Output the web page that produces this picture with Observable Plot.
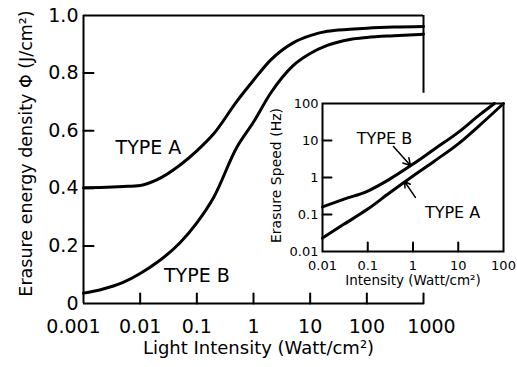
<!DOCTYPE html>
<html><head><meta charset="utf-8">
<script src="https://cdn.jsdelivr.net/npm/d3@7"></script>
<script src="https://cdn.jsdelivr.net/npm/@observablehq/plot@0.6"></script>
<style>
body{margin:0;background:#fff;}
#wrap{position:relative;width:517px;height:367px;overflow:hidden;}
#wrap svg{position:absolute;}
</style></head><body><div id="wrap"></div>
<script>
// ---- main chart data ----
const intensity = [0.001, 0.002, 0.005, 0.01, 0.02, 0.05, 0.1, 0.2, 0.5, 1, 2, 5, 10, 20, 50, 100, 300, 1000];
const typeA =     [0.402, 0.403, 0.406, 0.41, 0.43, 0.48, 0.53, 0.59, 0.70, 0.775, 0.845, 0.905, 0.93, 0.945, 0.952, 0.956, 0.96, 0.962];
const typeB =     [0.036, 0.048, 0.073, 0.104, 0.143, 0.21, 0.28, 0.37, 0.54, 0.63, 0.73, 0.826, 0.868, 0.896, 0.917, 0.924, 0.93, 0.935];
const mainXTicks = [0.001, 0.01, 0.1, 1, 10, 100, 1000];
const mainYTicks = [0, 0.2, 0.4, 0.6, 0.8, 1.0];
const mainLabels = [{x: 0.014, y: 0.54, t: "TYPE A"}, {x: 0.1, y: 0.095, t: "TYPE B"}];

// ---- inset data ----
const insetAX = [0.01, 0.03, 0.1, 0.3, 1, 3, 10, 30, 100];
const insetAY = [0.023, 0.055, 0.14, 0.38, 1.1, 2.8, 8.1, 26, 100];
const insetBX = [0.01, 0.03, 0.1, 0.3, 1, 3, 10, 30, 63];
const insetBY = [0.16, 0.26, 0.43, 0.89, 2.3, 5.9, 16.6, 50, 100];
const insetTicks = [0.01, 0.1, 1, 10, 100];
const insetLabels = [{x: 0.234, y: 11.3, t: "TYPE B"}, {x: 7.5, y: 0.113, t: "TYPE A"}];
const insetArrows = [{x1: 0.37, y1: 6.9, x2: 0.88, y2: 2.1}, {x1: 1.13, y1: 0.29, x2: 0.65, y2: 0.78}];

const font = "DejaVu Sans, sans-serif";
const fmtY = d => d === 0 ? "0" : d.toFixed(1);
// straight tick shape for Plot.vector
const tickShape = {draw(context, l) { context.moveTo(0, 0); context.lineTo(0, -l); }};

const mainRows = (ys) => intensity.map((x, i) => ({x, y: ys[i]}));
const xLabelOpts = {tickSize: 0, tickPadding: 16, tickFormat: d => String(d), fontSize: 19, label: null};

const main = Plot.plot({
  width: 517, height: 367,
  marginLeft: 83, marginRight: 94, marginTop: 15, marginBottom: 64,
  style: {fontFamily: font, background: "white", color: "black"},
  x: {type: "log", domain: [0.001, 1000]},
  y: {domain: [0, 1]},
  marks: [
    Plot.ruleX([0.001], {strokeWidth: 2}),
    Plot.ruleY([0], {strokeWidth: 2}),
    Plot.ruleY([1], {strokeWidth: 2}),
    Plot.ruleX([1000], {y1: 0.73, y2: 1, strokeWidth: 2}),
    // inward ticks
    Plot.vector(mainYTicks.slice(1, -1), {x: () => 0.001, y: d => d, length: 10, rotate: 90, anchor: "start", shape: tickShape, strokeWidth: 2, stroke: "black"}),
    Plot.vector(mainXTicks.slice(1), {x: d => d, y: () => 0, length: 10, rotate: 0, anchor: "start", shape: tickShape, strokeWidth: 2, stroke: "black"}),
    Plot.axisY({ticks: mainYTicks, tickSize: 0, tickPadding: 5, tickFormat: fmtY, fontSize: 19, label: null}),
    Plot.axisX({...xLabelOpts, ticks: mainXTicks.slice(0, 1), dx: -10}),
    Plot.axisX({...xLabelOpts, ticks: mainXTicks.slice(1, -1)}),
    Plot.axisX({...xLabelOpts, ticks: mainXTicks.slice(-1), dx: 8}),
    Plot.line(mainRows(typeA), {x: "x", y: "y", curve: "monotone-x", strokeWidth: 3}),
    Plot.line(mainRows(typeB), {x: "x", y: "y", curve: "monotone-x", strokeWidth: 3}),
    Plot.text(mainLabels, {x: "x", y: "y", text: "t", fontSize: 19}),
    Plot.text(["Light Intensity (Watt/cm²)"], {frameAnchor: "bottom", textAnchor: "middle", dx: 5, dy: 50, fontSize: 18}),
    Plot.text(["Erasure energy density Φ (J/cm²)"], {frameAnchor: "left", textAnchor: "middle", dx: -57, dy: -6, rotate: -90, fontSize: 17.5})
  ]
});

const inset = Plot.plot({
  width: 257, height: 210,
  marginLeft: 62, marginRight: 14, marginTop: 13, marginBottom: 49,
  style: {fontFamily: font, background: "transparent", color: "black"},
  x: {type: "log", domain: [0.01, 100]},
  y: {type: "log", domain: [0.01, 100]},
  marks: [
    Plot.frame({strokeWidth: 2}),
    Plot.vector(insetTicks.slice(1, -1), {x: () => 0.01, y: d => d, length: 9, rotate: 90, anchor: "start", shape: tickShape, strokeWidth: 2, stroke: "black"}),
    Plot.vector(insetTicks.slice(1, -1), {x: d => d, y: () => 0.01, length: 9, rotate: 0, anchor: "start", shape: tickShape, strokeWidth: 2, stroke: "black"}),
    Plot.axisY({ticks: insetTicks, tickSize: 0, tickPadding: 4, tickFormat: d => String(d), fontSize: 13, label: null}),
    Plot.axisX({ticks: insetTicks, tickSize: 0, tickPadding: 9, tickFormat: d => String(d), fontSize: 13, label: null}),
    Plot.line(insetAX.map((x, i) => ({x, y: insetAY[i]})), {x: "x", y: "y", curve: "monotone-x", strokeWidth: 3}),
    Plot.line(insetBX.map((x, i) => ({x, y: insetBY[i]})), {x: "x", y: "y", curve: "monotone-x", strokeWidth: 3}),
    Plot.text(insetLabels, {x: "x", y: "y", text: "t", fontSize: 16}),
    Plot.arrow(insetArrows, {x1: "x1", y1: "y1", x2: "x2", y2: "y2", strokeWidth: 1.5, headLength: 8}),
    Plot.text(["Intensity (Watt/cm²)"], {frameAnchor: "bottom", textAnchor: "middle", dy: 33, fontSize: 13.5}),
    Plot.text(["Erasure Speed (Hz)"], {frameAnchor: "left", textAnchor: "middle", dx: -46, dy: -2, rotate: -90, fontSize: 14})
  ]
});

const wrap = document.getElementById("wrap");
main.style.left = "0px"; main.style.top = "0px";
inset.style.left = "260px"; inset.style.top = "90px";
wrap.appendChild(main);
wrap.appendChild(inset);
</script></body></html>
